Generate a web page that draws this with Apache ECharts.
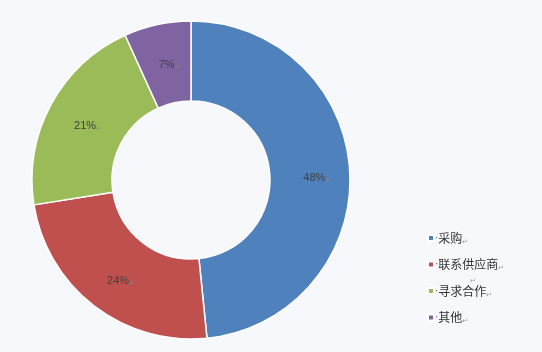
<!DOCTYPE html>
<html><head><meta charset="utf-8">
<script src="https://cdn.jsdelivr.net/npm/echarts@6/dist/echarts.min.js"></script>
<style>html,body{margin:0;padding:0;background:#f7f8fb;}#c{width:542px;height:352px;}</style>
</head><body><div id="c"></div>
<script>
const categories = ['采购', '联系供应商', '寻求合作', '其他'];
const values = [48.4, 24.1, 20.7, 6.8];
const colors = ['#4f81bd', '#c0504d', '#9bbb59', '#8064a2'];

const chart = echarts.init(document.getElementById('c'), null, {renderer: 'canvas'});
const total = values.reduce((a, b) => a + b, 0);
chart.setOption({
  backgroundColor: '#f7f8fb',
  animation: false,
  color: colors,
  legend: {
    orient: 'vertical',
    left: 422,
    top: 227,
    itemWidth: 6,
    itemHeight: 6,
    itemGap: 14,
    icon: 'rect',
    data: categories,
    formatter: n => '{d|·}' + n + '{m|↵}',
    textStyle: {
      color: '#333',
      fontSize: 12,
      fontFamily: 'Noto Sans CJK SC',
      rich: {
        d: {color: '#666', fontSize: 10, fontFamily: 'Arial', padding: [0, 0, 0, -4]},
        m: {color: '#999', fontSize: 7, verticalAlign: 'bottom', padding: [6, 0, 0, 0]}
      }
    }
  },
  graphic: [{type: 'text', left: 470, top: 278, style: {text: '↵', fill: '#999', font: '7px sans-serif'}}],
  series: [{
    type: 'pie',
    center: [191, 180],
    radius: [79, 159],
    startAngle: 90,
    clockwise: true,
    itemStyle: {borderColor: '#ffffff', borderWidth: 1.5},
    label: {
      show: true,
      position: 'inside',
      formatter: p => Math.round(p.value / total * 100) + '%{m|↵}',
      color: '#404040',
      fontSize: 11,
      fontFamily: 'Arial, Liberation Sans, sans-serif',
      padding: [8, 0, 0, 8],
      rich: {m: {color: '#888', fontSize: 6, verticalAlign: 'bottom', padding: [5, 0, 0, 0]}}
    },
    labelLine: {show: false},
    emphasis: {disabled: true},
    data: categories.map((c, i) => ({name: c, value: values[i]}))
  }]
});
</script></body></html>
